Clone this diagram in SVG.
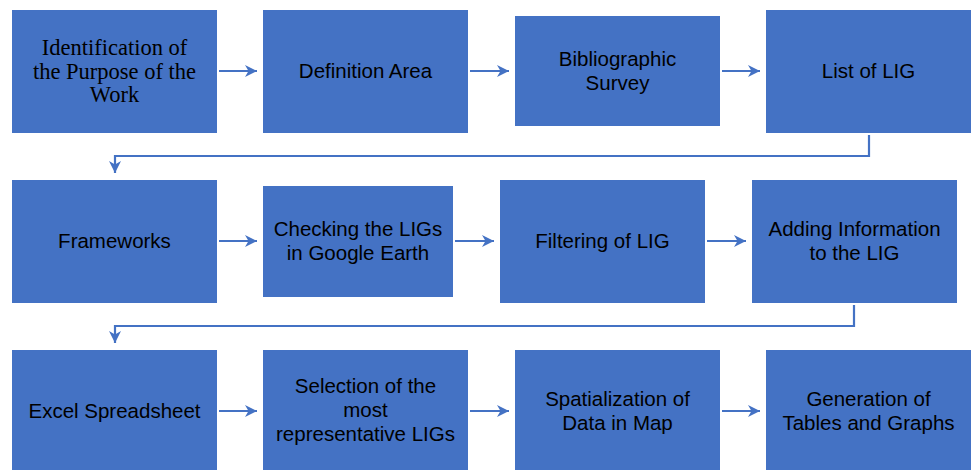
<svg xmlns="http://www.w3.org/2000/svg" width="971" height="470" viewBox="0 0 971 470">
  <style>
    .box { fill: #4472C4; }
    .lbl { font-family: "Liberation Sans", Arial, sans-serif; font-size: 20.5px; fill: #000; text-anchor: middle; }
    .serif { font-family: "Liberation Serif", "Times New Roman", serif; font-size: 22.5px; fill: #000; text-anchor: middle; }
    .con { fill: none; stroke: #4472C4; stroke-width: 2.2; marker-end: url(#arrow); }
  </style>
  <defs>
    <marker id="arrow" markerUnits="userSpaceOnUse" markerWidth="14" markerHeight="14" refX="12" refY="6.5" orient="auto">
      <path d="M0,0.5 L12,6.5 L0,12.5 L3.5,6.5 Z" fill="#4472C4"/>
    </marker>
  </defs>

  <rect width="971" height="470" fill="#fff"/>

  <!-- row 1 -->
  <g id="purpose">
    <rect class="box" x="12" y="10" width="205" height="123"/>
    <text class="serif" x="114.5" y="55">Identification of</text>
    <text class="serif" x="114.5" y="78.5">the Purpose of the</text>
    <text class="serif" x="114.5" y="102">Work</text>
  </g>
  <g id="definition-area">
    <rect class="box" x="263" y="10" width="205" height="123"/>
    <text class="lbl" x="365.5" y="78">Definition Area</text>
  </g>
  <g id="bibliographic-survey">
    <rect class="box" x="515" y="16" width="205" height="110"/>
    <text class="lbl" x="617.5" y="66">Bibliographic</text>
    <text class="lbl" x="617.5" y="90">Survey</text>
  </g>
  <g id="list-of-lig">
    <rect class="box" x="766" y="10" width="205" height="123"/>
    <text class="lbl" x="868.5" y="78">List of LIG</text>
  </g>

  <!-- row 2 -->
  <g id="frameworks">
    <rect class="box" x="12" y="180" width="205" height="123"/>
    <text class="lbl" x="114.5" y="248">Frameworks</text>
  </g>
  <g id="checking-ligs">
    <rect class="box" x="263" y="186" width="190" height="111"/>
    <text class="lbl" x="358" y="236">Checking the LIGs</text>
    <text class="lbl" x="358" y="260">in Google Earth</text>
  </g>
  <g id="filtering">
    <rect class="box" x="500" y="180" width="205" height="123"/>
    <text class="lbl" x="602.5" y="248">Filtering of LIG</text>
  </g>
  <g id="adding-information">
    <rect class="box" x="752" y="180" width="205" height="123"/>
    <text class="lbl" x="854.5" y="236">Adding Information</text>
    <text class="lbl" x="854.5" y="260">to the LIG</text>
  </g>

  <!-- row 3 -->
  <g id="excel-spreadsheet">
    <rect class="box" x="12" y="350" width="205" height="120"/>
    <text class="lbl" x="114.5" y="418">Excel Spreadsheet</text>
  </g>
  <g id="selection">
    <rect class="box" x="263" y="350" width="205" height="120"/>
    <text class="lbl" x="365.5" y="393">Selection of the</text>
    <text class="lbl" x="365.5" y="417">most</text>
    <text class="lbl" x="365.5" y="441">representative LIGs</text>
  </g>
  <g id="spatialization">
    <rect class="box" x="515" y="350" width="205" height="120"/>
    <text class="lbl" x="617.5" y="406">Spatialization of</text>
    <text class="lbl" x="617.5" y="430">Data in Map</text>
  </g>
  <g id="tables-graphs">
    <rect class="box" x="766" y="350" width="205" height="120"/>
    <text class="lbl" x="868.5" y="406">Generation of</text>
    <text class="lbl" x="868.5" y="430">Tables and Graphs</text>
  </g>

  <!-- connectors -->
  <g id="connectors">
    <line class="con" x1="219" y1="71" x2="257" y2="71"/>
    <line class="con" x1="470" y1="71" x2="509" y2="71"/>
    <line class="con" x1="722" y1="71" x2="760" y2="71"/>
    <polyline class="con" points="869,135 869,156 115,156 115,173"/>

    <line class="con" x1="219" y1="241" x2="257" y2="241"/>
    <line class="con" x1="455" y1="241" x2="494" y2="241"/>
    <line class="con" x1="707" y1="241" x2="746" y2="241"/>
    <polyline class="con" points="854,305 854,326 115,326 115,343"/>

    <line class="con" x1="219" y1="411" x2="257" y2="411"/>
    <line class="con" x1="470" y1="411" x2="509" y2="411"/>
    <line class="con" x1="722" y1="411" x2="760" y2="411"/>
  </g>
</svg>
